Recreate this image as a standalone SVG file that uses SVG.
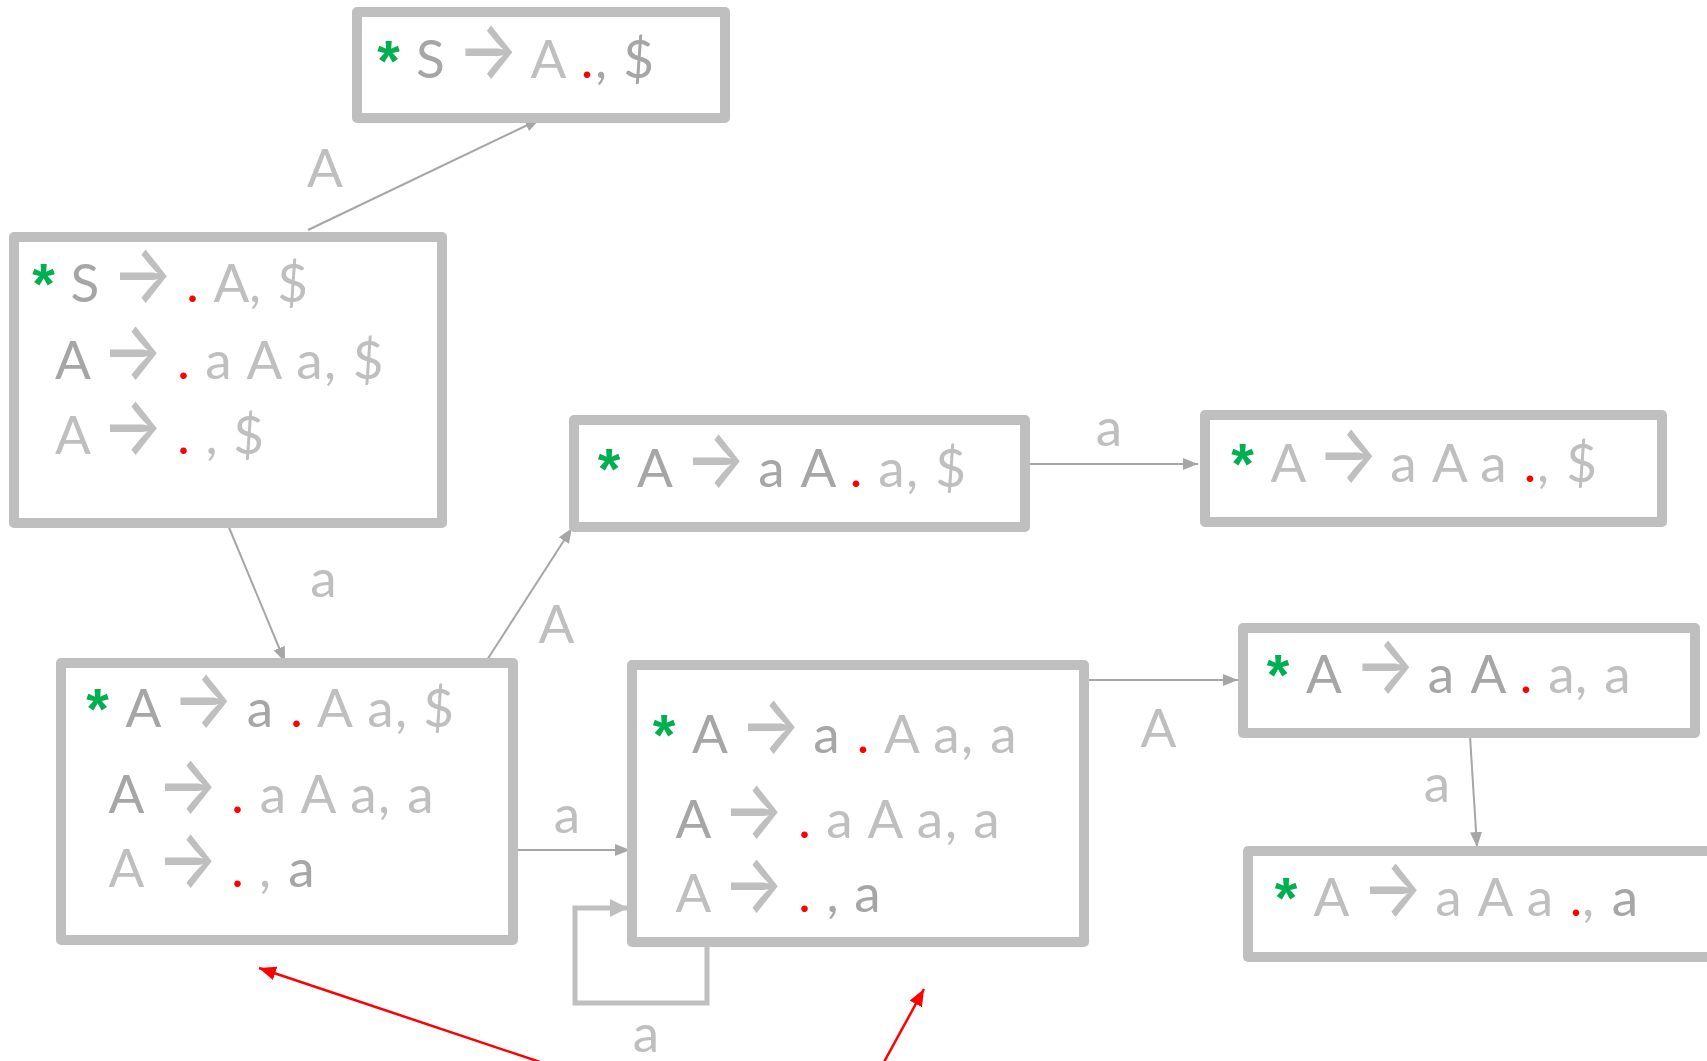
<svg xmlns="http://www.w3.org/2000/svg" width="1707" height="1061" viewBox="0 0 1707 1061">
  <defs>
    <style>
      .box { fill: #FFFFFF; stroke: #BFBFBF; stroke-width: 10; stroke-linejoin: round; }
      .t { font-family: Lato, "Open Sans", "Liberation Sans", sans-serif; font-size: 53px; text-anchor: middle; }
      .d { fill: #A6A6A6; }
      .l { fill: #BFBFBF; }
      .r { fill: #FF0000; }
      .star { font-family: "Liberation Sans", sans-serif; font-weight: bold; font-size: 58px; fill: #00B050; text-anchor: middle; }
      .arr { font-family: Inter, Lato, sans-serif; font-weight: 500; font-size: 81px; fill: #BFBFBF; text-anchor: middle; }
      .edge { fill: none; stroke: #A6A6A6; stroke-width: 2; marker-end: url(#head); }
      .loop { fill: none; stroke: #BFBFBF; stroke-width: 5; marker-end: url(#headLoop); }
      .note { fill: none; stroke: #FF0000; stroke-width: 2.5; marker-end: url(#headRed); }
      .lbl { font-family: Lato, "Open Sans", "Liberation Sans", sans-serif; font-size: 53px; text-anchor: middle; fill: #BFBFBF; }
    </style>
    <marker id="head" markerUnits="userSpaceOnUse" markerWidth="15" markerHeight="12" refX="15" refY="6" orient="auto">
      <path d="M0,0 L15,6 L0,12 z" fill="#A6A6A6"/>
    </marker>
    <marker id="headLoop" markerUnits="userSpaceOnUse" markerWidth="18" markerHeight="18" refX="18" refY="9" orient="auto">
      <path d="M0,0 L18,9 L0,18 z" fill="#BFBFBF"/>
    </marker>
    <marker id="headRed" markerUnits="userSpaceOnUse" markerWidth="17" markerHeight="14" refX="17" refY="7" orient="auto">
      <path d="M0,0 L17,7 L0,14 z" fill="#FF0000"/>
    </marker>
  </defs>

  <rect width="1707" height="1061" fill="#FFFFFF"/>

  <!-- transitions between item sets -->
  <g id="connectors">
    <line class="edge" x1="308" y1="230" x2="540" y2="119"/>
    <line class="edge" x1="228" y1="525" x2="285" y2="662"/>
    <line class="edge" x1="487" y1="660" x2="572" y2="528"/>
    <line class="edge" x1="1028" y1="464" x2="1198" y2="464"/>
    <line class="edge" x1="515" y1="850" x2="630" y2="850"/>
    <line class="edge" x1="1089" y1="680" x2="1238" y2="680"/>
    <line class="edge" x1="1470" y1="736" x2="1477" y2="847"/>
    <polyline class="loop" points="707,944 707,1003 575,1003 575,908 628,908"/>
    <text class="lbl" x="325" y="187">A</text>
    <text class="lbl" x="323.5" y="597">a</text>
    <text class="lbl" x="556.5" y="643">A</text>
    <text class="lbl" x="1109" y="446">a</text>
    <text class="lbl" x="567" y="833">a</text>
    <text class="lbl" x="1158.5" y="747">A</text>
    <text class="lbl" x="1437" y="802">a</text>
    <text class="lbl" x="646" y="1052">a</text>
  </g>

  <!-- red pointer arrows -->
  <g id="pointers">
    <line class="note" x1="540" y1="1062" x2="259" y2="968"/>
    <line class="note" x1="884" y1="1062" x2="924" y2="989"/>
  </g>

  <!-- S -> A . , $ -->
  <g id="state-sA">
    <rect class="box" x="357" y="12" width="368" height="106"/>
    <text class="star" x="388.5" y="81">*</text>
    <text class="arr" transform="translate(488,78) scale(0.79,1)">→</text>
    <text class="t" y="78"><tspan class="d" x="430.5">S</tspan><tspan class="l" x="548.5">A</tspan><tspan class="r" x="587">.</tspan><tspan class="d" x="601">,</tspan><tspan class="d" x="638.5">$</tspan></text>
  </g>

  <!-- start state closure -->
  <g id="state-start">
    <rect class="box" x="14" y="237" width="428" height="286"/>
    <text class="star" x="43.5" y="304">*</text>
    <text class="arr" transform="translate(142.5,302) scale(0.79,1)">→</text>
    <text class="t" y="302"><tspan class="d" x="85">S</tspan><tspan class="r" x="192.5">.</tspan><tspan class="l" x="231.5">A</tspan><tspan class="l" x="255">,</tspan><tspan class="l" x="292.5">$</tspan></text>
    <text class="arr" transform="translate(132.5,379) scale(0.79,1)">→</text>
    <text class="t" y="379"><tspan class="d" x="73">A</tspan><tspan class="r" x="183.5">.</tspan><tspan class="l" x="218.5">a</tspan><tspan class="l" x="264.5">A</tspan><tspan class="l" x="309.5">a</tspan><tspan class="l" x="330">,</tspan><tspan class="l" x="368">$</tspan></text>
    <text class="arr" transform="translate(132.5,454) scale(0.79,1)">→</text>
    <text class="t" y="454"><tspan class="l" x="73">A</tspan><tspan class="r" x="183.5">.</tspan><tspan class="l" x="211.5">,</tspan><tspan class="l" x="248.5">$</tspan></text>
  </g>

  <!-- A -> a A . a, $ -->
  <g id="state-aA-dollar">
    <rect class="box" x="574" y="420" width="451" height="107"/>
    <text class="star" x="609" y="489">*</text>
    <text class="arr" transform="translate(715.5,487) scale(0.79,1)">→</text>
    <text class="t" y="487"><tspan class="d" x="655">A</tspan><tspan class="d" x="771.5">a</tspan><tspan class="d" x="818.5">A</tspan><tspan class="r" x="856">.</tspan><tspan class="l" x="891.5">a</tspan><tspan class="l" x="912">,</tspan><tspan class="l" x="950.5">$</tspan></text>
  </g>

  <!-- A -> a A a . , $ -->
  <g id="state-aAa-dollar">
    <rect class="box" x="1205" y="415" width="457" height="107"/>
    <text class="star" x="1242.5" y="484">*</text>
    <text class="arr" transform="translate(1348,482) scale(0.79,1)">→</text>
    <text class="t" y="482"><tspan class="l" x="1288.5">A</tspan><tspan class="l" x="1403.5">a</tspan><tspan class="l" x="1450">A</tspan><tspan class="l" x="1493.5">a</tspan><tspan class="r" x="1530">.</tspan><tspan class="l" x="1543">,</tspan><tspan class="l" x="1581.5">$</tspan></text>
  </g>

  <!-- A -> a . A a, $ closure -->
  <g id="state-a-dollar">
    <rect class="box" x="61" y="663" width="452" height="277"/>
    <text class="star" x="97.5" y="729">*</text>
    <text class="arr" transform="translate(203,727) scale(0.79,1)">→</text>
    <text class="t" y="727"><tspan class="d" x="143.5">A</tspan><tspan class="d" x="260">a</tspan><tspan class="r" x="296.5">.</tspan><tspan class="l" x="335">A</tspan><tspan class="l" x="380.5">a</tspan><tspan class="l" x="401">,</tspan><tspan class="l" x="438.5">$</tspan></text>
    <text class="arr" transform="translate(187.5,813) scale(0.79,1)">→</text>
    <text class="t" y="813"><tspan class="d" x="126.5">A</tspan><tspan class="r" x="237.5">.</tspan><tspan class="l" x="273">a</tspan><tspan class="l" x="318.5">A</tspan><tspan class="l" x="363.5">a</tspan><tspan class="l" x="384">,</tspan><tspan class="l" x="420.5">a</tspan></text>
    <text class="arr" transform="translate(187.5,887) scale(0.79,1)">→</text>
    <text class="t" y="887"><tspan class="l" x="126.5">A</tspan><tspan class="r" x="237.5">.</tspan><tspan class="l" x="265">,</tspan><tspan class="d" x="301.5">a</tspan></text>
  </g>

  <!-- A -> a . A a, a closure -->
  <g id="state-a-a">
    <rect class="box" x="632" y="665" width="452" height="277"/>
    <text class="star" x="664" y="755">*</text>
    <text class="arr" transform="translate(770.5,753) scale(0.79,1)">→</text>
    <text class="t" y="753"><tspan class="d" x="710">A</tspan><tspan class="d" x="826.5">a</tspan><tspan class="r" x="863">.</tspan><tspan class="l" x="902">A</tspan><tspan class="l" x="946.5">a</tspan><tspan class="l" x="967">,</tspan><tspan class="l" x="1003.5">a</tspan></text>
    <text class="arr" transform="translate(753.5,838) scale(0.79,1)">→</text>
    <text class="t" y="838"><tspan class="d" x="693.5">A</tspan><tspan class="r" x="804.5">.</tspan><tspan class="l" x="839.5">a</tspan><tspan class="l" x="885.5">A</tspan><tspan class="l" x="930">a</tspan><tspan class="l" x="951">,</tspan><tspan class="l" x="986.5">a</tspan></text>
    <text class="arr" transform="translate(753.5,912) scale(0.79,1)">→</text>
    <text class="t" y="912"><tspan class="l" x="693.5">A</tspan><tspan class="r" x="804.5">.</tspan><tspan class="d" x="832.5">,</tspan><tspan class="d" x="867.5">a</tspan></text>
  </g>

  <!-- A -> a A . a, a -->
  <g id="state-aA-a">
    <rect class="box" x="1243" y="628" width="452" height="105"/>
    <text class="star" x="1278" y="695">*</text>
    <text class="arr" transform="translate(1385,693) scale(0.79,1)">→</text>
    <text class="t" y="693"><tspan class="d" x="1324">A</tspan><tspan class="d" x="1441">a</tspan><tspan class="d" x="1488.5">A</tspan><tspan class="r" x="1526">.</tspan><tspan class="l" x="1561.5">a</tspan><tspan class="l" x="1581">,</tspan><tspan class="l" x="1617.5">a</tspan></text>
  </g>

  <!-- A -> a A a . , a -->
  <g id="state-aAa-a">
    <rect class="box" x="1248" y="851" width="500" height="106"/>
    <text class="star" x="1286" y="918">*</text>
    <text class="arr" transform="translate(1392.5,916) scale(0.79,1)">→</text>
    <text class="t" y="916"><tspan class="l" x="1331.5">A</tspan><tspan class="l" x="1448.5">a</tspan><tspan class="l" x="1495.5">A</tspan><tspan class="l" x="1540">a</tspan><tspan class="r" x="1576">.</tspan><tspan class="l" x="1588">,</tspan><tspan class="d" x="1625">a</tspan></text>
  </g>
</svg>
